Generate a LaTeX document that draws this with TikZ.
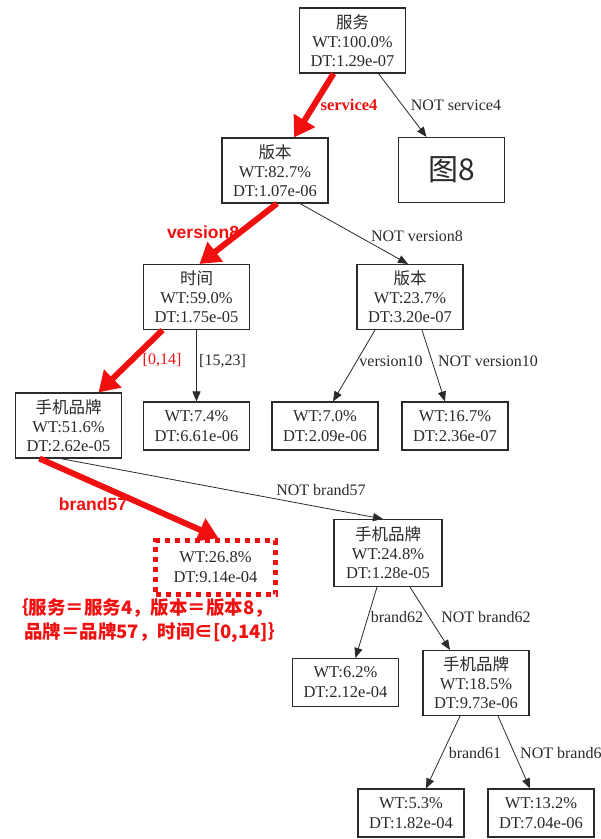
\documentclass[tikz,border=0pt]{standalone}
\usepackage{fontspec}
\setmainfont{Liberation Serif}
\newfontfamily\cjk{Noto Sans CJK SC}
\newfontfamily\lsans{Liberation Sans}
\usetikzlibrary{arrows.meta}
\definecolor{ink}{HTML}{2A2A2A}
\definecolor{rd}{HTML}{F01010}
\newcommand\zh[1]{{\cjk\fontsize{16.5}{18}\selectfont #1}}
\begin{document}
\begin{tikzpicture}[x=1pt,y=-1pt,
  nbox/.style={draw=ink, line width=1.1pt, minimum width=106pt, minimum height=65pt, inner sep=0pt, align=center, text=ink, font=\fontsize{16.5}{19}\selectfont},
  nbox2/.style={nbox, minimum height=48pt, font=\fontsize{16.5}{20}\selectfont},
  lbl/.style={text=ink, font=\fontsize{16}{18}\selectfont, inner sep=0pt},
  rlbl/.style={text=rd, inner sep=0pt},
  blk/.style={draw=ink, line width=0.8pt, -{Triangle[length=10pt,width=8pt]}},
  redarr/.style={draw=rd, line width=6pt, -{Triangle[length=20pt,width=24pt]}},
]
\useasboundingbox (0,0) rectangle (601,839);
\fill[white] (0,0) rectangle (601,839);

% nodes
\node[nbox] (fw) at (352.5,40.5) {\zh{服务}\\WT:100.0\%\\DT:1.29e-07};
\node[nbox] (bb1) at (275,170.5) {\zh{版本}\\WT:82.7\%\\DT:1.07e-06};
\node[nbox] (fig) at (451.5,170) {\cjk\fontsize{30}{32}\selectfont 图8};
\node[nbox] (sj) at (196.5,297) {\zh{时间}\\WT:59.0\%\\DT:1.75e-05};
\node[nbox] (bb2) at (410,297) {\zh{版本}\\WT:23.7\%\\DT:3.20e-07};
\node[nbox] (pp1) at (68.5,425.5) {\zh{手机品牌}\\WT:51.6\%\\DT:2.62e-05};
\node[nbox2] (l74) at (196.5,426) {WT:7.4\%\\DT:6.61e-06};
\node[nbox2] (l70) at (325,426) {WT:7.0\%\\DT:2.09e-06};
\node[nbox2] (l167) at (455,426) {WT:16.7\%\\DT:2.36e-07};
\node[nbox2, draw=rd, line width=5pt, dash pattern=on 5pt off 5pt, minimum width=120pt, minimum height=54pt] (sel) at (215.5,567.5) {WT:26.8\%\\DT:9.14e-04};
\node[nbox, minimum width=108pt, minimum height=67pt] (pp2) at (388,553) {\zh{手机品牌}\\WT:24.8\%\\DT:1.28e-05};
\node[nbox2] (l62) at (345.5,682.5) {WT:6.2\%\\DT:2.12e-04};
\node[nbox] (pp3) at (476,683) {\zh{手机品牌}\\WT:18.5\%\\DT:9.73e-06};
\node[nbox2] (l53) at (411,813) {WT:5.3\%\\DT:1.82e-04};
\node[nbox2] (l132) at (541,813) {WT:13.2\%\\DT:7.04e-06};

% edges
\draw[redarr] ([xshift=-19]fw.south) -- ([xshift=19]bb1.north);
\draw[blk] ([xshift=26]fw.south) -- ([xshift=-25]fig.north);
\draw[blk] ([xshift=25]bb1.south) -- ([xshift=-2]bb2.north);
\draw[redarr] ([xshift=2]bb1.south) -- ([xshift=3]sj.north);
\draw[redarr] ([xshift=-34]sj.south) -- ([xshift=30]pp1.north);
\draw[blk] (sj.south) -- (l74.north);
\draw[blk] ([xshift=-35]bb2.south) -- ([xshift=8]l70.north);
\draw[blk] ([xshift=12]bb2.south) -- ([xshift=-10]l167.north);
\draw[blk] ([xshift=-8]pp1.south) -- ([xshift=-5]pp2.north);
\draw[redarr] ([xshift=-29]pp1.south) -- ([xshift=3]sel.north);
\draw[blk] ([xshift=-11]pp2.south) -- ([xshift=10]l62.north);
\draw[blk] ([xshift=22]pp2.south) -- ([xshift=-26]pp3.north);
\draw[blk] ([xshift=-16]pp3.south) -- ([xshift=15]l53.north);
\draw[blk] ([xshift=22]pp3.south) -- ([xshift=-11]l132.north);

% edge labels
\node[rlbl, font=\fontsize{16.5}{18}\selectfont\bfseries] (t1) at (349,105) {service4};
\node[lbl] (t2) at (456,105) {NOT service4};
\node[rlbl, font=\lsans\fontsize{17.5}{19}\selectfont\bfseries] (t3) at (203,232) {version8};
\node[lbl] (t4) at (417,236) {NOT version8};
\node[rlbl, font=\fontsize{16}{18}\selectfont] (t5) at (162,360) {[0,14]};
\node[lbl] (t6) at (222.5,361) {[15,23]};
\node[lbl] (t7) at (391,361) {version10};
\node[lbl] (t8) at (488,361) {NOT version10};
\node[rlbl, font=\lsans\fontsize{17.5}{19}\selectfont\bfseries] (t9) at (93,504) {brand57};
\node[lbl] (t10) at (321,490) {NOT brand57};
\node[lbl] (t11) at (397,617) {brand62};
\node[lbl] (t12) at (486,617) {NOT brand62};
\node[lbl] (t13) at (475,753) {brand61};
\node[lbl, anchor=west] (t14) at (520,753) {NOT brand61};

% annotation
\node[rlbl, anchor=west, font=\cjk\fontsize{18.5}{20}\selectfont\bfseries] (a1) at (10,608) {｛服务＝服务4，版本＝版本8，};
\node[rlbl, anchor=west, font=\cjk\fontsize{18.5}{20}\selectfont\bfseries] (a2) at (24,633) {品牌＝品牌57，时间∈[0,14]｝};
\end{tikzpicture}
\end{document}
